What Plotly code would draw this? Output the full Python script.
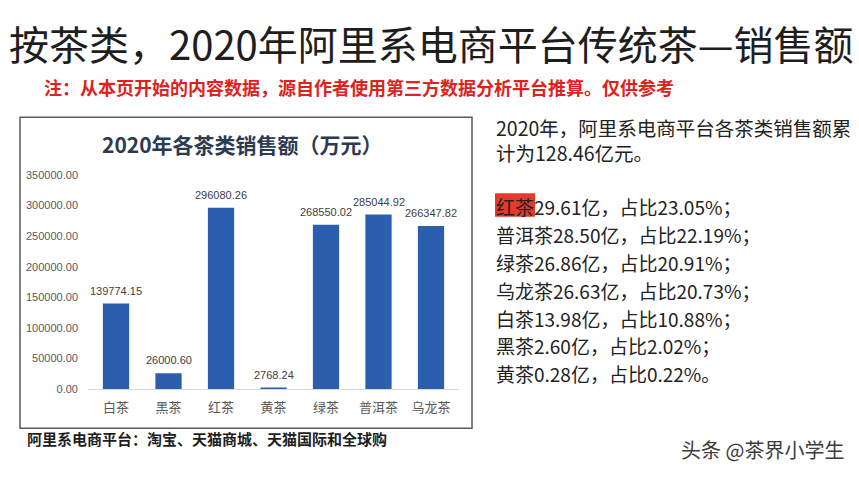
import plotly.graph_objects as go

W, H = 859, 483

categories = ['白茶', '黑茶', '红茶', '黄茶', '绿茶', '普洱茶', '乌龙茶']
sales = [139774.15, 26000.60, 296080.26, 2768.24, 268550.02, 285044.92, 266347.82]
y_ticks = [0, 50000, 100000, 150000, 200000, 250000, 300000, 350000]

page_title = '按茶类，2020年阿里系电商平台传统茶—销售额'
note_text = '注：从本页开始的内容数据，源自作者使用第三方数据分析平台推算。仅供参考'
chart_title = '2020年各茶类销售额（万元）'
summary_lines = ['2020年，阿里系电商平台各茶类销售额累', '计为128.46亿元。']
detail_lines = ['红茶29.61亿，占比23.05%；', '普洱茶28.50亿，占比22.19%；',
                '绿茶26.86亿，占比20.91%；', '乌龙茶26.63亿，占比20.73%；',
                '白茶13.98亿，占比10.88%；', '黑茶2.60亿，占比2.02%；',
                '黄茶0.28亿，占比0.22%。']
footer_text = '阿里系电商平台：淘宝、天猫商城、天猫国际和全球购'
watermark = '头条 @茶界小学生'

CJK = 'Noto Sans CJK SC'


def px(x):
    return x / W


def py(y):
    return 1 - y / H


fig = go.Figure()
fig.add_trace(go.Bar(
    x=categories, y=sales,
    marker=dict(color='#2b5fae', line=dict(width=0)),
    width=0.5, hoverinfo='x+y',
))

annotations = []
# value labels above the bars
for c, v in zip(categories, sales):
    annotations.append(dict(x=c, y=v, xref='x', yref='y', text=f'{v:.2f}',
                            showarrow=False, yshift=13, yanchor='middle',
                            font=dict(family='Liberation Sans', size=11, color='#404040')))

annotations.append(dict(x=px(431), y=py(38), xref='paper', yref='paper', text=page_title,
                        showarrow=False, xanchor='center', yanchor='middle',
                        font=dict(family=CJK, size=40, color='#1e1e1e')))
annotations.append(dict(x=px(42), y=py(83), xref='paper', yref='paper', text='<b>' + note_text + '</b>',
                        showarrow=False, xanchor='left', yanchor='middle',
                        font=dict(family=CJK, size=18, color='#e0211c')))
annotations.append(dict(x=px(242), y=py(142), xref='paper', yref='paper', text='<b>' + chart_title + '</b>',
                        showarrow=False, xanchor='center', yanchor='middle',
                        font=dict(family=CJK, size=21, color='#2c3b52')))

annotations.append(dict(x=px(494), y=py(137), xref='paper', yref='paper', text='<br>'.join(summary_lines),
                        showarrow=False, xanchor='left', yanchor='middle', align='left',
                        font=dict(family=CJK, size=19.5, color='#222222')))
for i, t in enumerate(detail_lines):
    annotations.append(dict(x=px(494), y=py(206 + 28.5 * i), xref='paper', yref='paper', text=t,
                            showarrow=False, xanchor='left', yanchor='middle',
                            font=dict(family=CJK, size=19, color='#222222')))

annotations.append(dict(x=px(25), y=py(444), xref='paper', yref='paper', text='<b>' + footer_text + '</b>',
                        showarrow=False, xanchor='left', yanchor='middle',
                        font=dict(family=CJK, size=15, color='#1e1e1e')))
annotations.append(dict(x=px(846), y=py(455), xref='paper', yref='paper', text=watermark,
                        showarrow=False, xanchor='right', yanchor='middle',
                        font=dict(family=CJK, size=20, color='#3c3c3c')))

shapes = [
    dict(type='rect', xref='paper', yref='paper', x0=px(20), x1=px(472), y0=py(433), y1=py(114),
         line=dict(color='#5a5a5a', width=1.5), fillcolor='rgba(0,0,0,0)', layer='below'),
    dict(type='rect', xref='paper', yref='paper', x0=px(495), x1=px(535), y0=py(216), y1=py(192),
         line=dict(width=0), fillcolor='#e5392d', layer='below'),
]

fig.update_layout(
    width=W, height=H, autosize=False,
    margin=dict(l=0, r=0, t=0, b=0),
    paper_bgcolor='white', plot_bgcolor='white',
    showlegend=False,
    bargap=0.5,
    annotations=annotations,
    shapes=shapes,
    xaxis=dict(domain=[px(88), px(459)], showline=True, linecolor='#d9d9d9', linewidth=1,
               showgrid=False, ticks='', tickfont=dict(family=CJK, size=13, color='#595959'),
               ticklabelstandoff=6, fixedrange=True),
    yaxis=dict(domain=[py(393), py(173)], range=[0, 350000], tickvals=y_ticks, tickformat='.2f',
               showgrid=False, zeroline=False, showline=False, ticks='',
               tickfont=dict(family='Liberation Sans', size=11, color='#595959'),
               ticklabelstandoff=9, fixedrange=True),
)

fig.write_html('out.html', config={'displayModeBar': False},
               post_script="document.body.style.margin='0';")
